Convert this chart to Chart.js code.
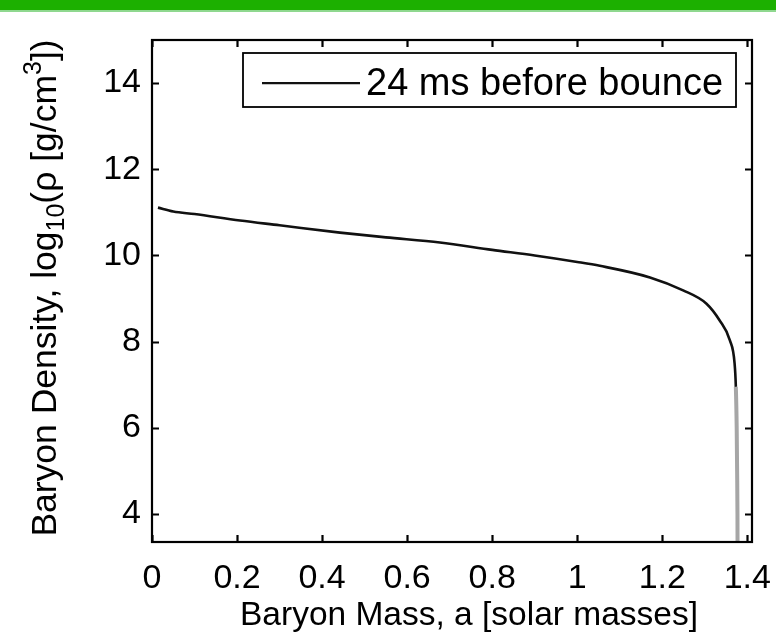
<!DOCTYPE html>
<html>
<head>
<meta charset="utf-8">
<script src="https://cdn.jsdelivr.net/npm/chart.js@4.4.1/dist/chart.umd.min.js"></script>
<style>
  html, body { margin: 0; padding: 0; background: #fff; }
  #wrap { position: relative; width: 776px; height: 636px; overflow: hidden; }
  #topbar { position: absolute; left: 0; top: 0; width: 776px; height: 10px; background: #1cb000; border-bottom: 2px solid #8fd88f; z-index: 2; }
  #plot { position: absolute; left: 0; top: 0; }
</style>
</head>
<body>
<div id="wrap">
  <div id="topbar"></div>
  <canvas id="plot" width="776" height="636"></canvas>
</div>
<script>
// enclosed baryon mass [solar masses] and log10 density along the profile
const massValues = [0.014, 0.05, 0.1, 0.207, 0.3, 0.442, 0.55, 0.677, 0.8, 0.9, 1.0, 1.053, 1.171, 1.249, 1.304, 1.335, 1.359, 1.370, 1.373, 1.3750, 1.3760, 1.3768, 1.3772];
const densityValues = [11.11, 11.02, 10.96, 10.81, 10.70, 10.53, 10.42, 10.30, 10.13, 10.00, 9.85, 9.76, 9.49, 9.19, 8.88, 8.49, 8.03, 7.50, 6.95, 6.0, 5.0, 4.0, 2.5];
const xTickValues = [0, 0.2, 0.4, 0.6, 0.8, 1, 1.2, 1.4];
const yTickValues = [4, 6, 8, 10, 12, 14];
const seriesLabel = '24 ms before bounce';

const FONT = '"Liberation Sans", Arial, Helvetica, sans-serif';
const TICK_SIZE = 34;

const points = massValues.map((m, i) => ({ x: m, y: densityValues[i] }));

// box frame, inward ticks, legend and axis labels
const framePlugin = {
  id: 'frame',
  afterDraw(chart) {
    const { ctx, chartArea: a, scales } = chart;
    const x = scales.x, y = scales.y;
    ctx.save();
    ctx.strokeStyle = '#000';
    ctx.lineWidth = 2.2;
    ctx.strokeRect(a.left, a.top, a.right - a.left, a.bottom - a.top);

    const tl = 7;
    ctx.beginPath();
    xTickValues.forEach(v => {
      const px = Math.round(x.getPixelForValue(v)) + 0.5;
      ctx.moveTo(px, a.bottom); ctx.lineTo(px, a.bottom - tl);
      ctx.moveTo(px, a.top); ctx.lineTo(px, a.top + tl);
    });
    yTickValues.forEach(v => {
      const py = Math.round(y.getPixelForValue(v)) + 0.5;
      ctx.moveTo(a.left, py); ctx.lineTo(a.left + tl, py);
      ctx.moveTo(a.right, py); ctx.lineTo(a.right - tl, py);
    });
    ctx.stroke();

    // legend box
    const ly = y.getPixelForValue(14);
    const lx0 = 243, lx1 = 736, ly0 = 53, ly1 = 107;
    ctx.fillStyle = '#fff';
    ctx.fillRect(lx0, ly0, lx1 - lx0, ly1 - ly0);
    ctx.lineWidth = 1.8;
    ctx.strokeRect(lx0, ly0, lx1 - lx0, ly1 - ly0);
    ctx.beginPath();
    ctx.strokeStyle = '#111';
    ctx.lineWidth = 2.4;
    ctx.moveTo(262, ly); ctx.lineTo(360, ly);
    ctx.stroke();
    ctx.fillStyle = '#000';
    ctx.font = '38px ' + FONT;
    ctx.textAlign = 'left';
    ctx.textBaseline = 'middle';
    ctx.fillText(chart.data.datasets[0].label, 366, ly + 1);

    // x axis label
    ctx.font = '33.5px ' + FONT;
    ctx.textAlign = 'center';
    ctx.textBaseline = 'alphabetic';
    ctx.fillText('Baryon Mass, a [solar masses]', (a.left + a.right) / 2 + 17, 625);

    // y axis label with subscript and superscript
    const parts = [
      { t: 'Baryon Density, log', s: 35.5, dy: 0 },
      { t: '10', s: 25, dy: 8 },
      { t: '(\u03c1 [g/cm', s: 35.5, dy: 0 },
      { t: '3', s: 25, dy: -15 },
      { t: '])', s: 35.5, dy: 0 }
    ];
    let total = 0;
    parts.forEach(p => { ctx.font = p.s + 'px ' + FONT; p.w = ctx.measureText(p.t).width; total += p.w; });
    ctx.translate(56, 288);
    ctx.rotate(-Math.PI / 2);
    ctx.textAlign = 'left';
    let cx = -total / 2;
    parts.forEach(p => {
      ctx.font = p.s + 'px ' + FONT;
      ctx.fillText(p.t, cx, p.dy);
      cx += p.w;
    });
    ctx.restore();
  }
};

new Chart(document.getElementById('plot'), {
  type: 'line',
  data: {
    datasets: [{
      label: seriesLabel,
      data: points,
      borderColor: '#111',
      borderWidth: 2.6,
      pointRadius: 0,
      cubicInterpolationMode: 'monotone',
      segment: {
        borderColor: c => (c.p0.parsed.y < 7.2 ? '#a6a6a6' : undefined),
        borderWidth: c => (c.p0.parsed.y < 7.2 ? 4 : undefined)
      }
    }]
  },
  options: {
    responsive: false,
    animation: false,
    events: [],
    layout: { padding: { top: 40, right: 24, left: 0, bottom: 0 } },
    plugins: { legend: { display: false }, tooltip: { enabled: false } },
    scales: {
      x: {
        type: 'linear',
        min: 0,
        max: 1.411,
        afterBuildTicks: s => { s.ticks = xTickValues.map(v => ({ value: v })); },
        afterFit: s => { s.height = 94; s.paddingLeft = 0; s.paddingRight = 0; },
        grid: { display: false },
        border: { display: false },
        ticks: {
          color: '#000',
          padding: 8,
          maxRotation: 0,
          font: { family: FONT, size: TICK_SIZE },
          callback: v => String(v)
        }
      },
      y: {
        type: 'linear',
        min: 3.35,
        max: 15,
        afterBuildTicks: s => { s.ticks = yTickValues.map(v => ({ value: v })); },
        afterFit: s => { s.width = 152; s.paddingTop = 0; s.paddingBottom = 0; },
        grid: { display: false },
        border: { display: false },
        ticks: {
          color: '#000',
          padding: 3,
          font: { family: FONT, size: TICK_SIZE },
          callback: v => String(v)
        }
      }
    }
  },
  plugins: [framePlugin]
});
</script>
</body>
</html>
